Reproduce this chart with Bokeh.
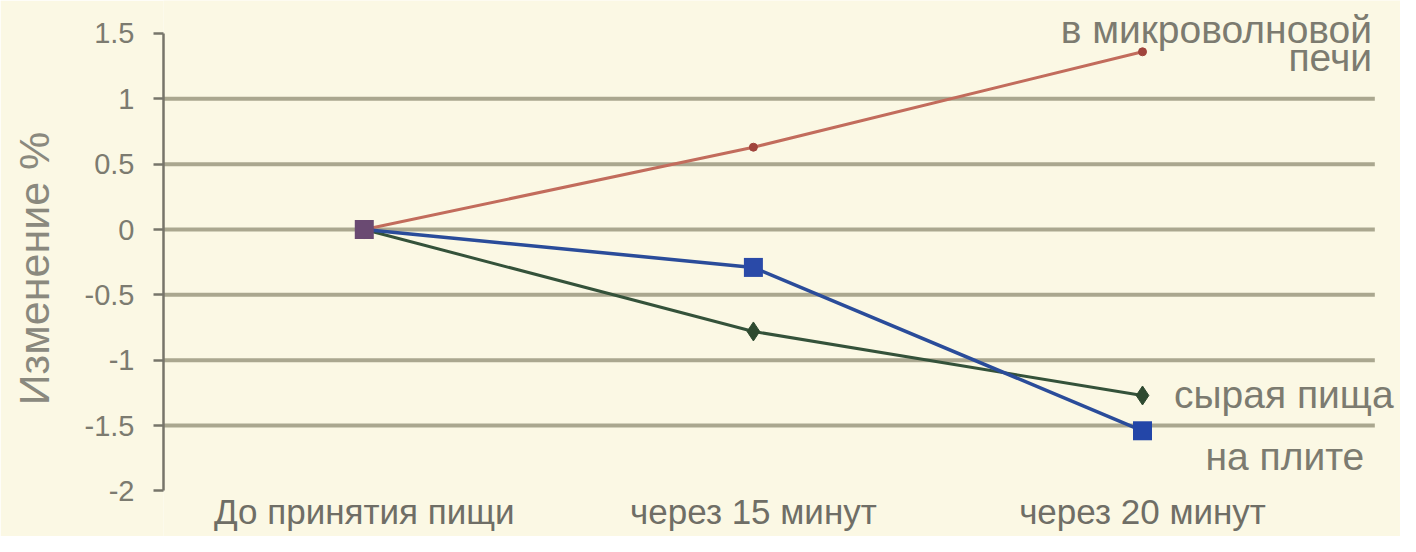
from bokeh.plotting import figure
from bokeh.models import FixedTicker, Label, Range1d, CustomJSTickFormatter
from bokeh.core.properties import value
from bokeh.embed import file_html
from bokeh.resources import INLINE

categories = ["До принятия пищи", "через 15 минут", "через 20 минут"]
x_pos = [0, 1, 2]
microwave = [0, 0.63, 1.36]
stove = [0, -0.29, -1.54]
raw = [0, -0.78, -1.27]
y_ticks = [-2, -1.5, -1, -0.5, 0, 0.5, 1, 1.5]
grid_ticks = [-1.5, -1, -0.5, 0, 0.5, 1]
y_label = "Изменение %"
series_labels = ["в микроволновой", "печи", "сырая пища", "на плите"]

BG = "#fbf8e4"
TXT = "#7c7b70"
FONT = "Liberation Sans"

X0, X1 = -0.516, 2.663
Y0, Y1 = -2.349, 1.7525
GRID_END = 2.597

p = figure(width=1400, height=536, output_backend="svg", toolbar_location=None,
           x_range=Range1d(X0, X1), y_range=Range1d(Y0, Y1),
           min_border_left=163, min_border_right=0, min_border_top=0, min_border_bottom=0,
           background_fill_color=BG, border_fill_color=BG, outline_line_color=None)

# grid (drawn as segments so that they stop before the right labels)
p.xgrid.visible = False
p.ygrid.visible = False
p.segment(x0=[X0] * len(grid_ticks), x1=[GRID_END] * len(grid_ticks),
          y0=grid_ticks, y1=grid_ticks, line_color="#aaa78f", line_width=4)

# y axis
p.yaxis.bounds = (min(y_ticks), max(y_ticks))
p.yaxis.ticker = FixedTicker(ticks=y_ticks)
p.yaxis.formatter = CustomJSTickFormatter(code="return tick.toString();")
p.yaxis.axis_line_color = "#77756a"
p.yaxis.axis_line_width = 2.5
p.yaxis.major_tick_line_color = "#77756a"
p.yaxis.major_tick_line_width = 2.5
p.yaxis.major_tick_out = 10
p.yaxis.major_tick_in = 0
p.yaxis.minor_tick_line_color = None
p.yaxis.major_label_text_font = FONT
p.yaxis.major_label_text_font_size = "29px"
p.yaxis.major_label_text_color = TXT
p.yaxis.major_label_standoff = 19
p.yaxis.axis_label = y_label
p.yaxis.axis_label_text_font = FONT
p.yaxis.axis_label_text_font_size = "43px"
p.yaxis.axis_label_text_font_style = "normal"
p.yaxis.axis_label_text_color = "#8a897e"
p.yaxis.axis_label_standoff = 24

# x axis hidden; category labels drawn as text below the lowest tick
p.xaxis.visible = False
p.text(x=x_pos, y=[min(y_ticks)] * len(x_pos), text=categories, y_offset=21,
       text_align="center", text_baseline="middle", text_font=value(FONT),
       text_font_size="35px", text_color="#6f6e66")

# series
p.line(x_pos, microwave, line_color="#c26c5c", line_width=3)
p.scatter(x_pos, microwave, marker="circle", size=8, color="#a0443c")

p.line(x_pos, raw, line_color="#34523a", line_width=3)
p.scatter(x_pos, raw, marker="diamond", size=19, color="#2e4a30")

p.line(x_pos, stove, line_color="#2a4c9a", line_width=3.5)
p.scatter(x_pos, stove, marker="square", size=19,
          fill_color=["#6a4a72", "#2a4aa8", "#2346a8"], line_color=None)

# series labels
lab = dict(text_font=FONT, text_font_size="39px", text_color=TXT, text_baseline="middle")
p.add_layout(Label(x=2.59, y=1.53, text=series_labels[0], text_align="right", **lab))
p.add_layout(Label(x=2.59, y=1.32, text=series_labels[1], text_align="right", **lab))
p.add_layout(Label(x=2.081, y=-1.26, text=series_labels[2], text_align="left", **lab))
p.add_layout(Label(x=2.57, y=-1.74, text=series_labels[3], text_align="right", **lab))

open("out.html", "w").write(file_html(p, INLINE))
